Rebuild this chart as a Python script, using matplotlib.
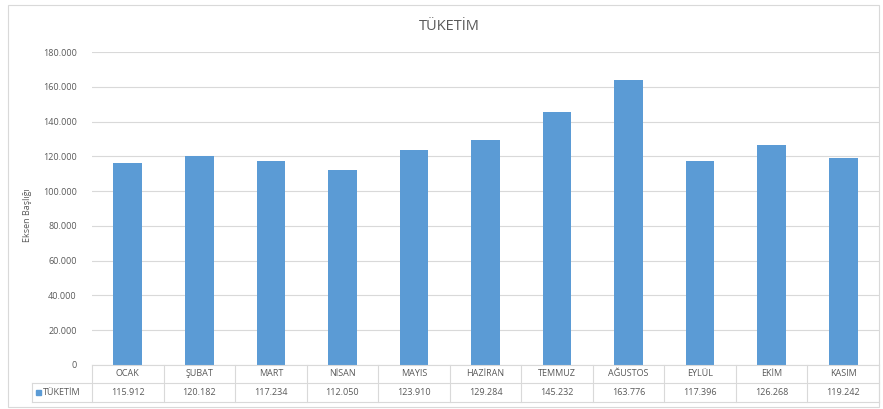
import matplotlib.pyplot as plt
from matplotlib.lines import Line2D
from matplotlib.patches import Rectangle
from matplotlib.ticker import FuncFormatter

months = ["OCAK", "ŞUBAT", "MART", "NİSAN", "MAYIS", "HAZİRAN",
          "TEMMUZ", "AĞUSTOS", "EYLÜL", "EKİM", "KASIM"]
consumption = [115912, 120182, 117234, 112050, 123910, 129284,
               145232, 163776, 117396, 126268, 119242]
series_name = "TÜKETİM"
y_ticks = list(range(0, 180001, 20000))

BAR = "#5B9BD5"
GRID = "#D9D9D9"
TXT = "#595959"
W, H = 883, 409

plt.rcParams["font.family"] = ["Open Sans", "DejaVu Sans"]


def fx(px):
    return px / W


def fy(py):
    return 1 - py / H


def dot_fmt(v, _pos=None):
    return f"{int(v):,}".replace(",", ".")


fig = plt.figure(figsize=(W / 100, H / 100), dpi=100)

# chart border
fig.add_artist(Rectangle((fx(8), fy(407)), fx(871), fy(5) - fy(407),
                         transform=fig.transFigure, fill=False, edgecolor=GRID, lw=0.8))

left, right, top, zero = 92, 879, 52, 365
ax = fig.add_axes([fx(left), fy(zero), fx(right - left), fy(top) - fy(zero)])
x = list(range(len(months)))
ax.bar(x, consumption, width=0.4, color=BAR, zorder=3)
ax.set_xlim(-0.5, len(months) - 0.5)
ax.set_ylim(0, 180000)
ax.set_yticks(y_ticks)
ax.yaxis.set_major_formatter(FuncFormatter(dot_fmt))
ax.tick_params(axis="y", length=0, labelsize=6.5, labelcolor=TXT, pad=11)
ax.set_xticks([])
ax.grid(axis="y", color=GRID, lw=0.8, zorder=0)
for s in ax.spines.values():
    s.set_visible(False)
ax.set_ylabel("Eksen Başlığı", fontsize=6.5, color=TXT)
ax.yaxis.set_label_coords(fx(32) - fx(left), 0.5, transform=None)
ax.yaxis.label.set_transform(fig.transFigure)
ax.yaxis.label.set_position((fx(32), fy(215)))

fig.text(fx(449), fy(27), "TÜKETİM", ha="center", va="center", fontsize=10.5, color=TXT)

# data table
row1, row2, row3 = 365, 383, 402
col_w = (right - left) / len(months)
tkw = dict(transform=fig.transFigure, color=GRID, lw=0.8)
fig.add_artist(Line2D([fx(left), fx(right)], [fy(row1), fy(row1)], **tkw))
fig.add_artist(Line2D([fx(32), fx(right)], [fy(row2), fy(row2)], **tkw))
fig.add_artist(Line2D([fx(32), fx(right)], [fy(row3), fy(row3)], **tkw))
fig.add_artist(Line2D([fx(32), fx(32)], [fy(row2), fy(row3)], **tkw))
for i in range(len(months) + 1):
    xx = left + i * col_w
    fig.add_artist(Line2D([fx(xx), fx(xx)], [fy(row1), fy(row3)], **tkw))
for i, (m, v) in enumerate(zip(months, consumption)):
    cx = left + (i + 0.5) * col_w
    fig.text(fx(cx), fy((row1 + row2) / 2), m, ha="center", va="center", fontsize=6.5, color=TXT)
    fig.text(fx(cx), fy((row2 + row3) / 2), dot_fmt(v), ha="center", va="center", fontsize=6.5, color=TXT)
fig.add_artist(Rectangle((fx(36), fy(395)), fx(5), fy(390) - fy(395), transform=fig.transFigure,
                         color=BAR))
fig.text(fx(43), fy((row2 + row3) / 2), series_name, ha="left", va="center", fontsize=6.5, color=TXT)

fig.savefig("out.png", dpi=100)
